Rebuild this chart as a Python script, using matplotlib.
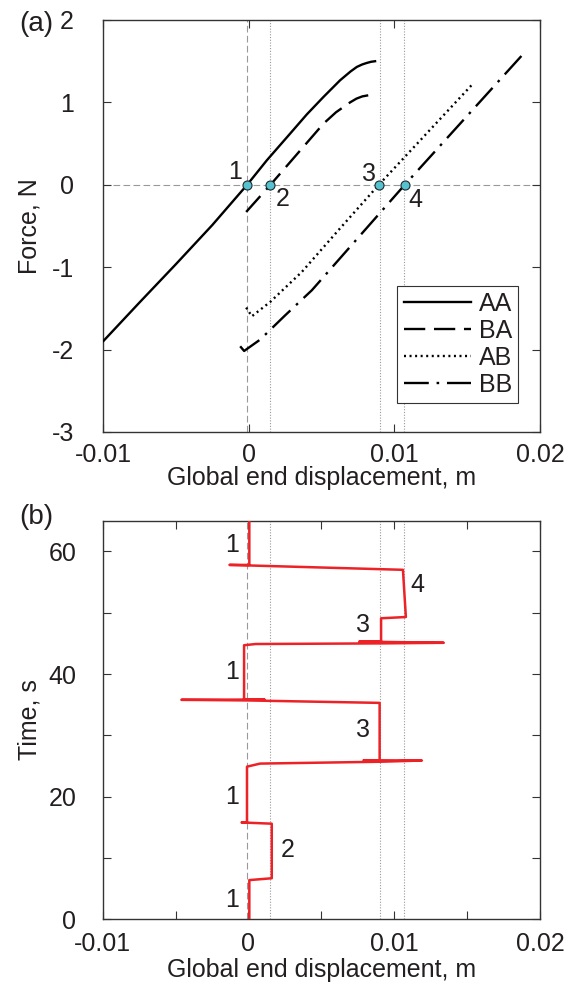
import matplotlib
matplotlib.use("Agg")
import matplotlib.pyplot as plt
import numpy as np

plt.rcParams['font.family'] = ['Liberation Sans', 'DejaVu Sans']
plt.rcParams['font.size'] = 18

# ---------------- data: panel (a) force vs displacement ----------------
aa_x = [-0.00997, -0.0075, -0.005, -0.0025, -0.0001, 0.00125, 0.00285, 0.00400, 0.00514,
        0.00628, 0.0070, 0.00743, 0.0078, 0.00811, 0.0084, 0.00868]
aa_y = [-1.896, -1.43, -0.965, -0.49, 0.0, 0.297, 0.621, 0.855, 1.066,
        1.268, 1.375, 1.43, 1.46, 1.478, 1.492, 1.499]

ba_x = [-0.00017, 0.0015, 0.00514, 0.0060, 0.00697, 0.0074, 0.00780, 0.00823]
ba_y = [-0.33, 0.0, 0.742, 0.88, 1.0, 1.045, 1.072, 1.086]

ab_x = [-0.00017, 0.00022, 0.00148, 0.00365, 0.00628, 0.00894, 0.01541]
ab_y = [-1.49, -1.596, -1.422, -1.058, -0.528, 0.0, 1.228]

bb_x = [-0.00058, -0.00031, 0.00079, 0.00251, 0.00434, 0.01072, 0.01898]
bb_y = [-1.96, -2.017, -1.879, -1.584, -1.28, 0.0, 1.612]

# equilibrium points 1..4
pt_labels = ['1', '2', '3', '4']
pt_x = [-0.0001, 0.0015, 0.00894, 0.01072]
pt_y = [0.0, 0.0, 0.0, 0.0]

# reference lines
dash_x = -0.0001
dot_x = [0.0015, 0.0090, 0.0107]

# ---------------- data: panel (b) displacement vs time ----------------
disp = [0.00006, 0.00006, 0.0016, 0.0016, -0.00047, -0.0001, -0.0001, 0.0008,
        0.0090, 0.0119, 0.0079, 0.0090, 0.0090, -0.0001, -0.0046, 0.0011,
        -0.0003, -0.0003, 0.0005, 0.0090, 0.0134, 0.0076, 0.0091, 0.0091,
        0.0108, 0.0106, -0.0013, 0.00006, 0.00006]
time = [0.0, 6.4, 6.7, 15.6, 15.8, 15.8, 24.9, 25.4,
        25.7, 25.9, 25.95, 25.9, 35.3, 35.7, 35.8, 35.85,
        35.9, 44.7, 44.9, 45.0, 45.1, 45.3, 45.3, 49.1,
        49.3, 57.0, 57.8, 57.8, 65.0]

b_labels = ['1', '2', '1', '3', '1', '3', '4', '1']
b_lab_x = [-0.00115, 0.00266, -0.00115, 0.00788, -0.00115, 0.00788, 0.01161, -0.00115]
b_lab_t = [3.1, 11.3, 20.0, 30.9, 40.4, 48.0, 54.6, 61.0]

a_lab_x = [-0.00093, 0.00232, 0.00823, 0.01143]
a_lab_y = [0.156, -0.168, 0.136, -0.18]

# ---------------- figure ----------------
fig = plt.figure(figsize=(5.74, 9.82), dpi=100)
ax1 = fig.add_axes([0.1794, 0.5601, 0.7613, 0.4196])
ax2 = fig.add_axes([0.1789, 0.0638, 0.7618, 0.4059])

txtc = '#231f20'
grey = '#999999'
fs = 18

for ax in (ax1, ax2):
    ax.tick_params(direction='in', length=6, width=0.8, top=True, right=True,
                   colors='#333333', labelcolor=txtc, labelsize=fs)
    for s in ax.spines.values():
        s.set_linewidth(1.0)
        s.set_color('#333333')
    ax.set_xlim(-0.01, 0.02)
    ax.axvline(dash_x, color=grey, lw=0.8, ls=(0, (6, 3)), zorder=1)
    for xv in dot_x:
        ax.axvline(xv, color=grey, lw=0.8, ls=(0, (1, 1.5)), zorder=1)

# panel (a)
ax1.axhline(0, color=grey, lw=0.8, ls=(0, (6, 3)), zorder=1)
ax1.plot(aa_x, aa_y, color='black', lw=1.7, label='AA', zorder=3)
ax1.plot(ba_x, ba_y, color='black', lw=1.7, ls=(0, (9.0, 3.7)), label='BA', zorder=3)
ax1.plot(ab_x, ab_y, color='black', lw=1.7, ls=(0, (0.85, 1.5)), label='AB', zorder=3)
ax1.plot(bb_x, bb_y, color='black', lw=1.7, ls=(0, (10.5, 3.3, 1.1, 3.3)), label='BB', zorder=3)
ax1.plot(pt_x, pt_y, ls='none', marker='o', ms=6.5, mfc='#56c1cf', mec='#1e2a2c',
         mew=0.8, zorder=5)
for lab, x, y in zip(pt_labels, a_lab_x, a_lab_y):
    ax1.text(x, y, lab, ha='center', va='center', fontsize=fs, color=txtc, zorder=6)

ax1.set_ylim(-3, 2)
ax1.set_xticks([-0.01, 0, 0.01, 0.02])
ax1.set_xticklabels(['-0.01', '0', '0.01', '0.02'])
ax1.set_yticks([-3, -2, -1, 0, 1, 2])
ax1.set_yticklabels(['-3', '-2', '-1', '0', '1', '2'])
ax1.tick_params(axis='x', pad=8)
ax1.tick_params(axis='y', pad=21)
ax1.set_xlabel('Global end displacement, m', color=txtc, fontsize=fs)
ax1.set_ylabel('Force, N', color=txtc, fontsize=fs)
ax1.xaxis.set_label_coords(0.5, -0.083)
ax1.yaxis.set_label_coords(-0.14, 0.5)

leg = ax1.legend(loc='lower right', bbox_to_anchor=(0.95, 0.07), fancybox=False,
                 edgecolor='#333333', framealpha=1, fontsize=fs, handlelength=2.7,
                 handletextpad=0.3, borderpad=0.25, labelspacing=0.12,
                 borderaxespad=0)
leg.get_frame().set_linewidth(0.8)
for t in leg.get_texts():
    t.set_color(txtc)

# panel (b)
ax2.plot(disp, time, color='#ec2227', lw=1.8, zorder=3)
for lab, x, t in zip(b_labels, b_lab_x, b_lab_t):
    ax2.text(x, t, lab, ha='center', va='center', fontsize=fs, color=txtc, zorder=6)
ax2.set_ylim(0, 65)
xt = [-0.01, -0.005, 0, 0.005, 0.01, 0.015, 0.02]
ax2.set_xticks(xt)
ax2.set_xticklabels(['-0.01', '', '0', '', '0.01', '', '0.02'])
ax2.set_yticks([0, 10, 20, 30, 40, 50, 60])
ax2.set_yticklabels(['0', '', '20', '', '40', '', '60'])
ax2.tick_params(axis='x', pad=9)
ax2.tick_params(axis='y', pad=19)
ax2.set_xlabel('Global end displacement, m', color=txtc, fontsize=fs)
ax2.set_ylabel('Time, s', color=txtc, fontsize=fs)
ax2.xaxis.set_label_coords(0.5, -0.097)
ax2.yaxis.set_label_coords(-0.14, 0.5)

fig.text(36 / 574, 1 - 24 / 982, '(a)', ha='center', va='center', fontsize=20, color=txtc)
fig.text(36 / 574, 1 - 517 / 982, '(b)', ha='center', va='center', fontsize=20, color=txtc)

fig.savefig('out.png', dpi=100)
